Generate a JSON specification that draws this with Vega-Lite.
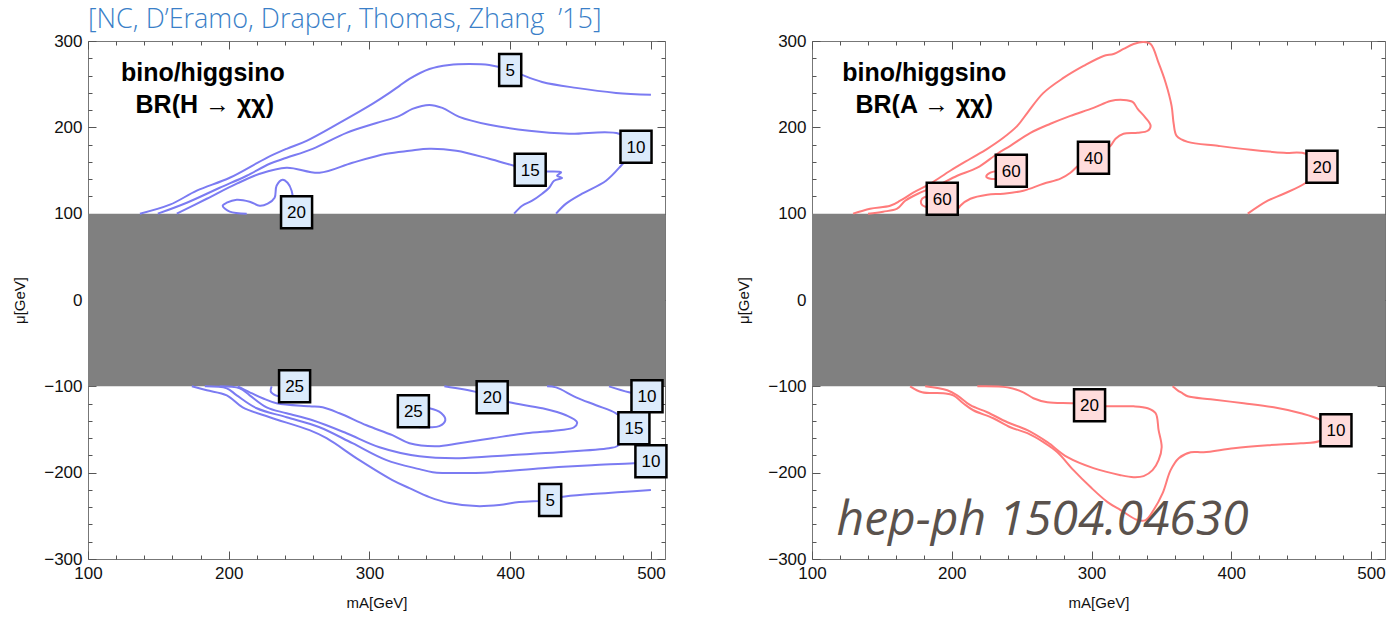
{
  "$schema": "https://vega.github.io/schema/vega-lite/v6.json",
  "padding": {"left": 12, "top": 5, "right": 2, "bottom": 2},
  "bounds": "flush",
  "spacing": 147,
  "config": {
    "view": {"stroke": "#777", "strokeWidth": 1},
    "font": "Liberation Sans",
    "axis": {"domain": false, "grid": false, "zindex": 1, "labelFont": "Liberation Sans", "labelFontSize": 17, "labelColor": "#111", "tickColor": "#555", "tickWidth": 1, "labelFlush": false, "labelOverlap": false, "titleFont": "Liberation Sans", "titleFontSize": 15, "titleFontWeight": "normal", "titleColor": "#111"}
  },
  "datasets": {
    "band": [{"x1": 100, "x2": 510, "y1": -100, "y2": 100}],
    "H_lines": [
      {"c":"5t","o":0,"x":136.9,"y":100},{"c":"5t","o":1,"x":158.2,"y":110.4},{"c":"5t","o":2,"x":177.3,"y":126.6},{"c":"5t","o":3,"x":200.7,"y":141.6},{"c":"5t","o":4,"x":227,"y":164.7},{"c":"5t","o":5,"x":241.1,"y":175.1},{"c":"5t","o":6,"x":255.3,"y":184.4},{"c":"5t","o":7,"x":278.7,"y":205.2},{"c":"5t","o":8,"x":302.1,"y":227.2},{"c":"5t","o":9,"x":314.2,"y":239.9},{"c":"5t","o":10,"x":321.3,"y":248},{"c":"5t","o":11,"x":328.4,"y":256.1},{"c":"5t","o":12,"x":342.6,"y":267.6},{"c":"5t","o":13,"x":356.7,"y":272.3},{"c":"5t","o":14,"x":370.9,"y":273.4},{"c":"5t","o":15,"x":385.1,"y":272.3},{"c":"5t","o":16,"x":400,"y":266.5},{"c":"5t","o":17,"x":408.5,"y":260.7},{"c":"5t","o":18,"x":422.7,"y":252.6},{"c":"5t","o":19,"x":446.8,"y":245.7},{"c":"5t","o":20,"x":475.2,"y":239.9},{"c":"5t","o":21,"x":500,"y":237.6},
      {"c":"10t","o":0,"x":149.6,"y":100},{"c":"10t","o":1,"x":170.2,"y":112.7},{"c":"10t","o":2,"x":193.6,"y":130},{"c":"10t","o":3,"x":212.8,"y":143.9},{"c":"10t","o":4,"x":229.1,"y":157.8},{"c":"10t","o":5,"x":241.1,"y":164.7},{"c":"10t","o":6,"x":259.6,"y":175.1},{"c":"10t","o":7,"x":283.7,"y":193.6},{"c":"10t","o":8,"x":305,"y":205},{"c":"10t","o":9,"x":321.3,"y":213.3},{"c":"10t","o":10,"x":330.5,"y":221.4},{"c":"10t","o":11,"x":342.6,"y":226},{"c":"10t","o":12,"x":351.8,"y":222.5},{"c":"10t","o":13,"x":363.8,"y":212.1},{"c":"10t","o":14,"x":385.1,"y":202.9},{"c":"10t","o":15,"x":413.5,"y":196},{"c":"10t","o":16,"x":441.8,"y":192.5},{"c":"10t","o":17,"x":477.3,"y":192.5},{"c":"10t","o":18,"x":489.4,"y":177.5},{"c":"10t","o":19,"x":478.7,"y":155.5},{"c":"10t","o":20,"x":468.1,"y":138.2},{"c":"10t","o":21,"x":451.1,"y":123.1},{"c":"10t","o":22,"x":439.7,"y":111.6},{"c":"10t","o":23,"x":432.6,"y":100},
      {"c":"15t","o":0,"x":163.1,"y":100},{"c":"15t","o":1,"x":184.4,"y":117.3},{"c":"15t","o":2,"x":205.7,"y":134.7},{"c":"15t","o":3,"x":222,"y":146.2},{"c":"15t","o":4,"x":241.1,"y":153.2},{"c":"15t","o":5,"x":264.5,"y":147.4},{"c":"15t","o":6,"x":287.9,"y":159},{"c":"15t","o":7,"x":312.1,"y":169.4},{"c":"15t","o":8,"x":328.4,"y":172.8},{"c":"15t","o":9,"x":342.6,"y":175.1},{"c":"15t","o":10,"x":361.7,"y":172.8},{"c":"15t","o":11,"x":385.1,"y":163.6},{"c":"15t","o":12,"x":402.8,"y":155.5},{"c":"15t","o":13,"x":414.2,"y":150.9},{"c":"15t","o":14,"x":425.5,"y":148.9},{"c":"15t","o":15,"x":436.2,"y":147.8},{"c":"15t","o":16,"x":433.3,"y":143.9},{"c":"15t","o":17,"x":436.9,"y":141.3},{"c":"15t","o":18,"x":431.2,"y":138.2},{"c":"15t","o":19,"x":427.7,"y":130},{"c":"15t","o":20,"x":422.7,"y":123.1},{"c":"15t","o":21,"x":415.6,"y":115},{"c":"15t","o":22,"x":408.5,"y":109.2},{"c":"15t","o":23,"x":402.8,"y":100},
      {"c":"20t","o":0,"x":212.8,"y":100},{"c":"20t","o":1,"x":200.7,"y":102.3},{"c":"20t","o":2,"x":195.7,"y":109.2},{"c":"20t","o":3,"x":198.6,"y":112.7},{"c":"20t","o":4,"x":205.7,"y":116.2},{"c":"20t","o":5,"x":214.9,"y":113.9},{"c":"20t","o":6,"x":222,"y":109.2},{"c":"20t","o":7,"x":227.7,"y":111.6},{"c":"20t","o":8,"x":232.6,"y":118.5},{"c":"20t","o":9,"x":234,"y":132.4},{"c":"20t","o":10,"x":238.3,"y":139.3},{"c":"20t","o":11,"x":241.8,"y":135.8},{"c":"20t","o":12,"x":244.7,"y":126.6},{"c":"20t","o":13,"x":245.5,"y":118},
      {"c":"5b","o":0,"x":173.8,"y":-100},{"c":"5b","o":1,"x":184.4,"y":-104.6},{"c":"5b","o":2,"x":198.6,"y":-110.4},{"c":"5b","o":3,"x":209.9,"y":-124.3},{"c":"5b","o":4,"x":229.1,"y":-135.8},{"c":"5b","o":5,"x":257.4,"y":-150.8},{"c":"5b","o":6,"x":269.5,"y":-160.1},{"c":"5b","o":7,"x":292.9,"y":-185.5},{"c":"5b","o":8,"x":316.3,"y":-208.6},{"c":"5b","o":9,"x":328.4,"y":-217.9},{"c":"5b","o":10,"x":342.6,"y":-228.3},{"c":"5b","o":11,"x":356.7,"y":-235.2},{"c":"5b","o":12,"x":375.9,"y":-238.7},{"c":"5b","o":13,"x":392.2,"y":-237.5},{"c":"5b","o":14,"x":406.4,"y":-234.1},{"c":"5b","o":15,"x":428.4,"y":-231.8},{"c":"5b","o":16,"x":436.2,"y":-228.3},{"c":"5b","o":17,"x":458.1,"y":-224.8},{"c":"5b","o":18,"x":479.4,"y":-222.5},{"c":"5b","o":19,"x":500,"y":-220.2},
      {"c":"10b","o":0,"x":183,"y":-100},{"c":"10b","o":1,"x":198.6,"y":-102.3},{"c":"10b","o":2,"x":205.7,"y":-110.4},{"c":"10b","o":3,"x":219.9,"y":-125.4},{"c":"10b","o":4,"x":241.1,"y":-135.8},{"c":"10b","o":5,"x":264.5,"y":-147.4},{"c":"10b","o":6,"x":287.9,"y":-165.9},{"c":"10b","o":7,"x":312.1,"y":-185.5},{"c":"10b","o":8,"x":335.5,"y":-195.9},{"c":"10b","o":9,"x":345,"y":-199.4},{"c":"10b","o":10,"x":363.8,"y":-200.5},{"c":"10b","o":11,"x":387.2,"y":-199.4},{"c":"10b","o":12,"x":422.7,"y":-194.8},{"c":"10b","o":13,"x":458.1,"y":-191.3},{"c":"10b","o":14,"x":487.9,"y":-189},{"c":"10b","o":15,"x":500,"y":-186.7},
      {"c":"10u","o":0,"x":470.2,"y":-100},{"c":"10u","o":1,"x":484.4,"y":-106.9},{"c":"10u","o":2,"x":497.2,"y":-111.5},
      {"c":"15b","o":0,"x":193.6,"y":-100},{"c":"15b","o":1,"x":207.8,"y":-102.3},{"c":"15b","o":2,"x":214.9,"y":-110.4},{"c":"15b","o":3,"x":226.9,"y":-124.3},{"c":"15b","o":4,"x":241.1,"y":-131.2},{"c":"15b","o":5,"x":259.6,"y":-139.3},{"c":"15b","o":6,"x":283.7,"y":-154.3},{"c":"15b","o":7,"x":307.1,"y":-170.5},{"c":"15b","o":8,"x":335.5,"y":-181},{"c":"15b","o":9,"x":363.8,"y":-183.2},{"c":"15b","o":10,"x":399.3,"y":-179.7},{"c":"15b","o":11,"x":434.7,"y":-176.3},{"c":"15b","o":12,"x":470.2,"y":-171.6},{"c":"15b","o":13,"x":475.9,"y":-169.4},{"c":"15b","o":14,"x":487.9,"y":-148.5},{"c":"15b","o":15,"x":475.2,"y":-131.2},{"c":"15b","o":16,"x":461,"y":-121.9},{"c":"15b","o":17,"x":446.8,"y":-112.7},{"c":"15b","o":18,"x":432.6,"y":-101.2},{"c":"15b","o":19,"x":426.2,"y":-100},
      {"c":"20b","o":0,"x":206.4,"y":-100},{"c":"20b","o":1,"x":214.9,"y":-106.9},{"c":"20b","o":2,"x":224.1,"y":-113.8},{"c":"20b","o":3,"x":234,"y":-119.6},{"c":"20b","o":4,"x":257.4,"y":-123.1},{"c":"20b","o":5,"x":266.7,"y":-124.3},{"c":"20b","o":6,"x":278.7,"y":-131.2},{"c":"20b","o":7,"x":297.9,"y":-145.1},{"c":"20b","o":8,"x":316.3,"y":-156.6},{"c":"20b","o":9,"x":328.4,"y":-165.9},{"c":"20b","o":10,"x":347.5,"y":-169.4},{"c":"20b","o":11,"x":363.8,"y":-165.9},{"c":"20b","o":12,"x":387.2,"y":-160.1},{"c":"20b","o":13,"x":411.3,"y":-154.3},{"c":"20b","o":14,"x":434.7,"y":-150.8},{"c":"20b","o":15,"x":445.4,"y":-147.4},{"c":"20b","o":16,"x":447.5,"y":-141.6},{"c":"20b","o":17,"x":439.7,"y":-133.5},{"c":"20b","o":18,"x":422.7,"y":-125.4},{"c":"20b","o":19,"x":399.3,"y":-118.5},{"c":"20b","o":20,"x":387.2,"y":-112.7},{"c":"20b","o":21,"x":376.6,"y":-106.9},{"c":"20b","o":22,"x":353.2,"y":-100},
      {"c":"25a","o":0,"x":230.5,"y":-100},{"c":"25a","o":1,"x":229.8,"y":-105.8},{"c":"25a","o":2,"x":233.3,"y":-110.4},{"c":"25a","o":3,"x":236.9,"y":-111.5},{"c":"25a","o":4,"x":246.8,"y":-110},
      {"c":"25b","o":0,"x":335,"y":-125.4},{"c":"25b","o":1,"x":342.6,"y":-125.4},{"c":"25b","o":2,"x":351.1,"y":-131.2},{"c":"25b","o":3,"x":353.9,"y":-139.3},{"c":"25b","o":4,"x":349.6,"y":-146.2},{"c":"25b","o":5,"x":342.6,"y":-147.4},{"c":"25b","o":6,"x":335,"y":-147.4}
    ],
    "H_labels": [
      {"x":400,"y":266.5,"t":"5"},{"x":489.4,"y":177.5,"t":"10"},{"x":414.2,"y":150.9,"t":"15"},{"x":248.2,"y":101.5,"t":"20"},
      {"x":246.8,"y":-100,"t":"25"},{"x":331.2,"y":-128.9,"t":"25"},{"x":387.2,"y":-112.7,"t":"20"},{"x":497.2,"y":-111.5,"t":"10"},{"x":487.9,"y":-148.5,"t":"15"},{"x":500,"y":-186.7,"t":"10"},{"x":428.4,"y":-231.8,"t":"5"}
    ],
    "A_lines": [
      {"c":"20t","o":0,"x":129.4,"y":100},{"c":"20t","o":1,"x":141.6,"y":105.8},{"c":"20t","o":2,"x":155.9,"y":109.2},{"c":"20t","o":3,"x":163.1,"y":115},{"c":"20t","o":4,"x":172.4,"y":124.3},{"c":"20t","o":5,"x":184.6,"y":134.7},{"c":"20t","o":6,"x":198.9,"y":149.7},{"c":"20t","o":7,"x":213.3,"y":163.6},{"c":"20t","o":8,"x":225.4,"y":175.1},{"c":"20t","o":9,"x":236.9,"y":187.9},{"c":"20t","o":10,"x":246.9,"y":201.7},{"c":"20t","o":11,"x":254.1,"y":216.8},{"c":"20t","o":12,"x":265.6,"y":239.9},{"c":"20t","o":13,"x":279.9,"y":257.2},{"c":"20t","o":14,"x":294.3,"y":271.1},{"c":"20t","o":15,"x":308.6,"y":282.7},{"c":"20t","o":16,"x":315.8,"y":285},{"c":"20t","o":17,"x":322.9,"y":290.8},{"c":"20t","o":18,"x":330.1,"y":296.5},{"c":"20t","o":19,"x":337.3,"y":298.8},{"c":"20t","o":20,"x":342.3,"y":296.5},{"c":"20t","o":21,"x":348,"y":274.6},{"c":"20t","o":22,"x":353.1,"y":251.4},{"c":"20t","o":23,"x":357.3,"y":224.9},{"c":"20t","o":24,"x":358.8,"y":204.1},{"c":"20t","o":25,"x":360.9,"y":190.2},{"c":"20t","o":26,"x":368.8,"y":183.2},{"c":"20t","o":27,"x":390.3,"y":178.6},{"c":"20t","o":28,"x":414,"y":174},{"c":"20t","o":29,"x":437.6,"y":170.5},{"c":"20t","o":30,"x":453.4,"y":169.4},{"c":"20t","o":31,"x":464.9,"y":154.3},{"c":"20t","o":32,"x":453.4,"y":135.8},{"c":"20t","o":33,"x":437.6,"y":123.1},{"c":"20t","o":34,"x":426.1,"y":115},{"c":"20t","o":35,"x":411.8,"y":100},
      {"c":"40","o":0,"x":140.1,"y":100},{"c":"40","o":1,"x":150.9,"y":102.3},{"c":"40","o":2,"x":160.9,"y":105.8},{"c":"40","o":3,"x":166.7,"y":115},{"c":"40","o":4,"x":177.4,"y":124.3},{"c":"40","o":5,"x":189.6,"y":132.4},{"c":"40","o":6,"x":203.9,"y":143.9},{"c":"40","o":7,"x":218.3,"y":153.2},{"c":"40","o":8,"x":232.6,"y":169.4},{"c":"40","o":9,"x":241.9,"y":178.6},{"c":"40","o":10,"x":256.3,"y":193.6},{"c":"40","o":11,"x":270.6,"y":204.1},{"c":"40","o":12,"x":284.9,"y":213.3},{"c":"40","o":13,"x":301.4,"y":222.5},{"c":"40","o":14,"x":313.6,"y":230.6},{"c":"40","o":15,"x":322.9,"y":231.8},{"c":"40","o":16,"x":329.4,"y":229.5},{"c":"40","o":17,"x":333,"y":221.4},{"c":"40","o":18,"x":338.7,"y":211},{"c":"40","o":19,"x":342.3,"y":201.7},{"c":"40","o":20,"x":340.2,"y":196},{"c":"40","o":21,"x":333,"y":193.6},{"c":"40","o":22,"x":322.9,"y":192.5},{"c":"40","o":23,"x":317.2,"y":186.7},{"c":"40","o":24,"x":313.6,"y":178.6},{"c":"40","o":25,"x":302.1,"y":164.7},{"c":"40","o":26,"x":292.1,"y":157.8},{"c":"40","o":27,"x":284.9,"y":147.4},{"c":"40","o":28,"x":277.8,"y":140.5},{"c":"40","o":29,"x":265.6,"y":134.7},{"c":"40","o":30,"x":251.2,"y":126.6},{"c":"40","o":31,"x":236.9,"y":123.1},{"c":"40","o":32,"x":225.4,"y":122},{"c":"40","o":33,"x":213.3,"y":117.3},{"c":"40","o":34,"x":206.1,"y":109.2},{"c":"40","o":35,"x":203,"y":101},
      {"c":"60a","o":0,"x":184,"y":120.8},{"c":"60a","o":1,"x":178.8,"y":117.3},{"c":"60a","o":2,"x":178.1,"y":111.6},{"c":"60a","o":3,"x":181,"y":108.1},{"c":"60a","o":4,"x":185.5,"y":109.2},
      {"c":"60b","o":0,"x":234,"y":149.7},{"c":"60b","o":1,"x":227.6,"y":147.4},{"c":"60b","o":2,"x":224.7,"y":142.8},{"c":"60b","o":3,"x":227.6,"y":140.5},{"c":"60b","o":4,"x":234,"y":140.5},
      {"c":"10b","o":0,"x":170.2,"y":-100},{"c":"10b","o":1,"x":178.8,"y":-106.9},{"c":"10b","o":2,"x":193.9,"y":-108.1},{"c":"10b","o":3,"x":201.1,"y":-110.4},{"c":"10b","o":4,"x":208.2,"y":-119.6},{"c":"10b","o":5,"x":215.4,"y":-127.7},{"c":"10b","o":6,"x":229.7,"y":-137},{"c":"10b","o":7,"x":241.9,"y":-147.4},{"c":"10b","o":8,"x":254.1,"y":-154.3},{"c":"10b","o":9,"x":265.6,"y":-164.7},{"c":"10b","o":10,"x":275.6,"y":-176.3},{"c":"10b","o":11,"x":287.1,"y":-197.1},{"c":"10b","o":12,"x":299.3,"y":-216.7},{"c":"10b","o":13,"x":311.5,"y":-234.1},{"c":"10b","o":14,"x":320.8,"y":-243.3},{"c":"10b","o":15,"x":333,"y":-254.9},{"c":"10b","o":16,"x":338.7,"y":-254.9},{"c":"10b","o":17,"x":344.4,"y":-243.3},{"c":"10b","o":18,"x":350.9,"y":-223.7},{"c":"10b","o":19,"x":356.6,"y":-197.1},{"c":"10b","o":20,"x":362.4,"y":-183.2},{"c":"10b","o":21,"x":371,"y":-176.3},{"c":"10b","o":22,"x":380.3,"y":-176.3},{"c":"10b","o":23,"x":401.8,"y":-171.6},{"c":"10b","o":24,"x":426.1,"y":-168.2},{"c":"10b","o":25,"x":449.8,"y":-165.9},{"c":"10b","o":26,"x":462.7,"y":-163.6},{"c":"10b","o":27,"x":474.2,"y":-150.8},{"c":"10b","o":28,"x":462.7,"y":-138.1},{"c":"10b","o":29,"x":449.8,"y":-131.2},{"c":"10b","o":30,"x":430.4,"y":-124.3},{"c":"10b","o":31,"x":408.9,"y":-119.6},{"c":"10b","o":32,"x":385.3,"y":-115},{"c":"10b","o":33,"x":368.8,"y":-111.5},{"c":"10b","o":34,"x":365.2,"y":-108.1},{"c":"10b","o":35,"x":361.6,"y":-104.6},{"c":"10b","o":36,"x":358,"y":-100},
      {"c":"20b","o":0,"x":181,"y":-100},{"c":"20b","o":1,"x":196.8,"y":-104.6},{"c":"20b","o":2,"x":203.9,"y":-110.4},{"c":"20b","o":3,"x":213.3,"y":-121.9},{"c":"20b","o":4,"x":225.4,"y":-130},{"c":"20b","o":5,"x":239.8,"y":-141.6},{"c":"20b","o":6,"x":254.1,"y":-150.8},{"c":"20b","o":7,"x":268.4,"y":-164.7},{"c":"20b","o":8,"x":282.8,"y":-182.1},{"c":"20b","o":9,"x":301.4,"y":-194.8},{"c":"20b","o":10,"x":320.8,"y":-202.9},{"c":"20b","o":11,"x":330.1,"y":-205.2},{"c":"20b","o":12,"x":337.3,"y":-204},{"c":"20b","o":13,"x":343.7,"y":-197.1},{"c":"20b","o":14,"x":348,"y":-185.5},{"c":"20b","o":15,"x":350.2,"y":-170.5},{"c":"20b","o":16,"x":348,"y":-150.8},{"c":"20b","o":17,"x":345.9,"y":-131.2},{"c":"20b","o":18,"x":340.2,"y":-125.4},{"c":"20b","o":19,"x":330.1,"y":-123.1},{"c":"20b","o":20,"x":318.6,"y":-123.1},{"c":"20b","o":21,"x":306.4,"y":-123.1},{"c":"20b","o":22,"x":298.6,"y":-121.9},{"c":"20b","o":23,"x":287.1,"y":-119.6},{"c":"20b","o":24,"x":268.4,"y":-118.5},{"c":"20b","o":25,"x":258.4,"y":-113.8},{"c":"20b","o":26,"x":251.2,"y":-106.9},{"c":"20b","o":27,"x":239.8,"y":-101.2},{"c":"20b","o":28,"x":218.3,"y":-100}
    ],
    "A_labels": [
      {"x":193.2,"y":117.3,"t":"60"},{"x":242.6,"y":149.7,"t":"60"},{"x":301.4,"y":164.7,"t":"40"},{"x":464.9,"y":154.3,"t":"20"},{"x":298.6,"y":-121.9,"t":"20"},{"x":474.9,"y":-150.8,"t":"10"}
    ],
    "H_notes": [{"x":181.6,"y":263,"t":"bino/higgsino"},{"x":183,"y":226,"t":"BR(H → χχ)"}],
    "A_notes": [{"x":180.3,"y":263,"t":"bino/higgsino"},{"x":180.3,"y":226,"t":"BR(A → χχ)"}],
    "mark_text": [{"x":265,"y":-272,"t":"hep-ph 1504.04630"}]
  },
  "hconcat": [
    {
      "width": 577, "height": 518,
      "title": {"text": "[NC, D’Eramo, Draper, Thomas, Zhang\u00a0 ’15]", "anchor": "start", "frame": "group", "font": "Open Sans", "fontWeight": 300, "fontSize": 27, "color": "#3a7fc8", "offset": -2},
      "resolve": {"axis": {"x": "independent", "y": "independent"}},
      "layer": [
        {"data": {"name": "band"}, "mark": {"type": "rect", "color": "#808080"},
         "encoding": {
           "x": {"field": "x1", "type": "quantitative", "scale": {"domain": [100, 510], "nice": false, "zero": false}, "axis": {"orient": "bottom", "offset": 0, "values": [100, 200, 300, 400, 500], "tickSize": -8, "labelPadding": 14, "title": "mA[GeV]", "titlePadding": 14}},
           "x2": {"field": "x2"},
           "y": {"field": "y1", "type": "quantitative", "scale": {"domain": [-300, 300], "nice": false, "zero": false}, "axis": {"orient": "left", "offset": 0, "values": [-300, -200, -100, 0, 100, 200, 300], "tickSize": -8, "labelPadding": 14, "title": "μ[GeV]", "titlePadding": 16}},
           "y2": {"field": "y2"}}},
        {"data": {"name": "H_lines"}, "mark": {"type": "line", "color": "#7b7bf2", "strokeWidth": 2, "interpolate": "catmull-rom", "clip": true},
         "encoding": {
           "x": {"field": "x", "type": "quantitative", "scale": {"domain": [100, 510], "nice": false, "zero": false}, "axis": {"orient": "bottom", "offset": 0, "values": [120,140,160,180,220,240,260,280,320,340,360,380,420,440,460,480], "tickSize": -4, "labels": false, "title": null}},
           "y": {"field": "y", "type": "quantitative", "scale": {"domain": [-300, 300], "nice": false, "zero": false}, "axis": {"orient": "left", "offset": 0, "values": [-280,-260,-240,-220,-180,-160,-140,-120,120,140,160,180,220,240,260,280], "tickSize": -4, "labels": false, "title": null}},
           "detail": {"field": "c"}, "order": {"field": "o", "type": "quantitative"}}},
        {"data": {"name": "H_labels"}, "transform": [{"filter": "length(datum.t) == 2"}],
         "mark": {"type": "point", "shape": "M-0.97,-1H0.97V1H-0.97Z", "size": 1024, "filled": true, "fill": "#dcebfb", "stroke": "#000", "strokeWidth": 2.5, "opacity": 1},
         "encoding": {
           "x": {"field": "x", "type": "quantitative", "scale": {"domain": [100, 510], "nice": false, "zero": false}, "axis": {"orient": "top", "offset": 0, "values": [100, 200, 300, 400, 500], "tickSize": -8, "labels": false, "title": null}},
           "y": {"field": "y", "type": "quantitative", "scale": {"domain": [-300, 300], "nice": false, "zero": false}, "axis": {"orient": "right", "offset": 0, "values": [-300, -200, -100, 0, 100, 200, 300], "tickSize": -8, "labels": false, "title": null}}}},
        {"data": {"name": "H_labels"}, "transform": [{"filter": "length(datum.t) == 1"}],
         "mark": {"type": "point", "shape": "M-0.69,-1H0.69V1H-0.69Z", "size": 1024, "filled": true, "fill": "#dcebfb", "stroke": "#000", "strokeWidth": 2.5, "opacity": 1},
         "encoding": {
           "x": {"field": "x", "type": "quantitative", "scale": {"domain": [100, 510], "nice": false, "zero": false}, "axis": {"orient": "top", "offset": 0, "values": [120,140,160,180,220,240,260,280,320,340,360,380,420,440,460,480], "tickSize": -4, "labels": false, "title": null}},
           "y": {"field": "y", "type": "quantitative", "scale": {"domain": [-300, 300], "nice": false, "zero": false}, "axis": {"orient": "right", "offset": 0, "values": [-280,-260,-240,-220,-180,-160,-140,-120,120,140,160,180,220,240,260,280], "tickSize": -4, "labels": false, "title": null}}}},
        {"data": {"name": "H_labels"}, "mark": {"type": "text", "font": "Liberation Sans", "fontSize": 17, "color": "#000", "align": "center", "baseline": "middle", "dy": 1},
         "encoding": {"x": {"field": "x", "type": "quantitative", "axis": null}, "y": {"field": "y", "type": "quantitative", "axis": null}, "text": {"field": "t"}}},
        {"data": {"name": "H_notes"}, "mark": {"type": "text", "font": "Liberation Sans", "fontSize": 25, "fontWeight": "bold", "color": "#000", "align": "center", "baseline": "middle"},
         "encoding": {"x": {"field": "x", "type": "quantitative", "axis": null}, "y": {"field": "y", "type": "quantitative", "axis": null}, "text": {"field": "t"}}}
      ]
    },
    {
      "width": 573, "height": 518,
      "resolve": {"axis": {"x": "independent", "y": "independent"}},
      "layer": [
        {"data": {"name": "band"}, "mark": {"type": "rect", "color": "#808080"},
         "encoding": {
           "x": {"field": "x1", "type": "quantitative", "scale": {"domain": [100, 510], "nice": false, "zero": false}, "axis": {"orient": "bottom", "offset": 0, "values": [100, 200, 300, 400, 500], "tickSize": -8, "labelPadding": 14, "title": "mA[GeV]", "titlePadding": 14}},
           "x2": {"field": "x2"},
           "y": {"field": "y1", "type": "quantitative", "scale": {"domain": [-300, 300], "nice": false, "zero": false}, "axis": {"orient": "left", "offset": 0, "values": [-300, -200, -100, 0, 100, 200, 300], "tickSize": -8, "labelPadding": 14, "title": "μ[GeV]", "titlePadding": 16}},
           "y2": {"field": "y2"}}},
        {"data": {"name": "A_lines"}, "mark": {"type": "line", "color": "#ff7b7b", "strokeWidth": 2, "interpolate": "catmull-rom", "clip": true},
         "encoding": {
           "x": {"field": "x", "type": "quantitative", "scale": {"domain": [100, 510], "nice": false, "zero": false}, "axis": {"orient": "bottom", "offset": 0, "values": [120,140,160,180,220,240,260,280,320,340,360,380,420,440,460,480], "tickSize": -4, "labels": false, "title": null}},
           "y": {"field": "y", "type": "quantitative", "scale": {"domain": [-300, 300], "nice": false, "zero": false}, "axis": {"orient": "left", "offset": 0, "values": [-280,-260,-240,-220,-180,-160,-140,-120,120,140,160,180,220,240,260,280], "tickSize": -4, "labels": false, "title": null}},
           "detail": {"field": "c"}, "order": {"field": "o", "type": "quantitative"}}},
        {"data": {"name": "A_labels"},
         "mark": {"type": "point", "shape": "M-0.97,-1H0.97V1H-0.97Z", "size": 1024, "filled": true, "fill": "#ffdcdc", "stroke": "#000", "strokeWidth": 2.5, "opacity": 1},
         "encoding": {
           "x": {"field": "x", "type": "quantitative", "scale": {"domain": [100, 510], "nice": false, "zero": false}, "axis": {"orient": "top", "offset": 0, "values": [100, 200, 300, 400, 500], "tickSize": -8, "labels": false, "title": null}},
           "y": {"field": "y", "type": "quantitative", "scale": {"domain": [-300, 300], "nice": false, "zero": false}, "axis": {"orient": "right", "offset": 0, "values": [-300, -200, -100, 0, 100, 200, 300], "tickSize": -8, "labels": false, "title": null}}}},
        {"data": {"name": "A_labels"}, "mark": {"type": "text", "font": "Liberation Sans", "fontSize": 17, "color": "#000", "align": "center", "baseline": "middle", "dy": 1},
         "encoding": {
           "x": {"field": "x", "type": "quantitative", "scale": {"domain": [100, 510], "nice": false, "zero": false}, "axis": {"orient": "top", "offset": 0, "values": [120,140,160,180,220,240,260,280,320,340,360,380,420,440,460,480], "tickSize": -4, "labels": false, "title": null}},
           "y": {"field": "y", "type": "quantitative", "scale": {"domain": [-300, 300], "nice": false, "zero": false}, "axis": {"orient": "right", "offset": 0, "values": [-280,-260,-240,-220,-180,-160,-140,-120,120,140,160,180,220,240,260,280], "tickSize": -4, "labels": false, "title": null}},
           "text": {"field": "t"}}},
        {"data": {"name": "A_notes"}, "mark": {"type": "text", "font": "Liberation Sans", "fontSize": 25, "fontWeight": "bold", "color": "#000", "align": "center", "baseline": "middle"},
         "encoding": {"x": {"field": "x", "type": "quantitative", "axis": null}, "y": {"field": "y", "type": "quantitative", "axis": null}, "text": {"field": "t"}}},
        {"data": {"name": "mark_text"}, "mark": {"type": "text", "font": "Open Sans", "fontSize": 48, "fontStyle": "italic", "color": "#5a524d", "align": "center", "baseline": "alphabetic"},
         "encoding": {"x": {"field": "x", "type": "quantitative", "axis": null}, "y": {"field": "y", "type": "quantitative", "axis": null}, "text": {"field": "t"}}}
      ]
    }
  ]
}
